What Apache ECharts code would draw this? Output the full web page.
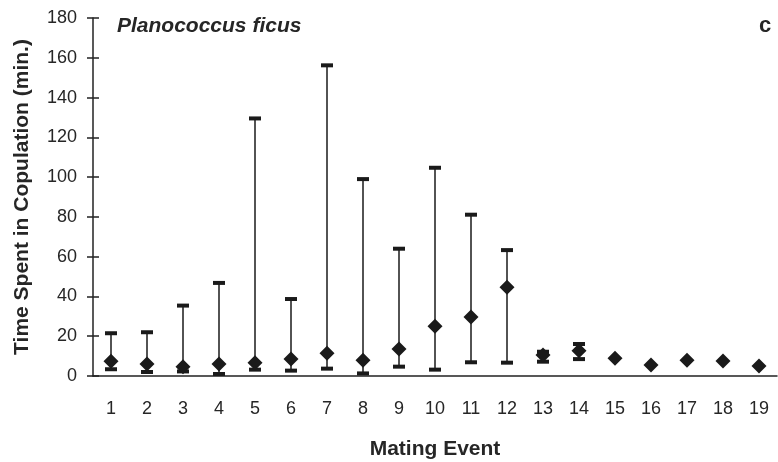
<!DOCTYPE html>
<html>
<head>
<meta charset="utf-8">
<script src="https://cdn.jsdelivr.net/npm/echarts@6/dist/echarts.min.js"></script>
<style>
html,body{margin:0;padding:0;background:#fff;}
#chart{width:778px;height:462px;}
</style>
</head>
<body>
<div id="chart"></div>
<script>
var categories = ['1','2','3','4','5','6','7','8','9','10','11','12','13','14','15','16','17','18','19'];
var meanValues = [7.4, 6, 4.7, 6, 6.7, 8.5, 11.4, 7.9, 13.6, 25, 29.7, 44.6, 10.6, 12.7, 8.9, 5.5, 7.9, 7.5, 5];
var upperValues = [21.5, 22, 35.4, 46.8, 129.5, 38.7, 156.2, 99, 64, 104.7, 81.1, 63.3, 12.2, 16.1, null, null, null, null, null];
var lowerValues = [3.4, 2, 2.3, 1, 3.2, 2.7, 3.7, 1.3, 4.7, 3.2, 6.9, 6.7, 7.2, 8.5, null, null, null, null, null];
var yTicks = [0, 20, 40, 60, 80, 100, 120, 140, 160, 180];

var errData = [];
for (var i = 0; i < categories.length; i++) {
  if (upperValues[i] != null) errData.push([i, lowerValues[i], upperValues[i]]);
}

var textColor = '#262626';
var lineColor = '#222';
var font = 'Liberation Sans, Arial, sans-serif';

var chart = echarts.init(document.getElementById('chart'), null, {renderer: 'canvas'});
chart.setOption({
  animation: false,
  backgroundColor: '#fff',
  title: [
    {text: 'Planococcus ficus', left: 112, top: 11,
     textStyle: {fontFamily: font, fontSize: 21, fontWeight: 'bold', fontStyle: 'italic', color: textColor}},
    {text: 'c', left: 754, top: 10,
     textStyle: {fontFamily: font, fontSize: 22, fontWeight: 'bold', color: textColor}}
  ],
  grid: {left: 93, right: 1, top: 18, bottom: 86, containLabel: false, outerBoundsMode: 'none'},
  xAxis: [
    {type: 'category', data: categories, position: 'bottom',
     name: 'Mating Event', nameLocation: 'middle', nameGap: 63,
     nameTextStyle: {fontFamily: font, fontSize: 21, fontWeight: 'bold', color: textColor},
     axisLine: {lineStyle: {color: lineColor, width: 1.5}},
     axisTick: {inside: false, length: 6, lineStyle: {color: lineColor, width: 1.5}},
     axisLabel: {fontFamily: font, fontSize: 18, color: textColor, margin: 24},
     splitLine: {show: false}},
    {type: 'category', data: categories, position: 'bottom',
     axisLine: {show: false},
     axisTick: {inside: true, length: 6, lineStyle: {color: lineColor, width: 1.5}},
     axisLabel: {show: false},
     splitLine: {show: false}}
  ],
  yAxis: [
    {type: 'value', min: 0, max: 180, interval: 20, position: 'left',
     name: 'Time Spent in Copulation (min.)', nameLocation: 'middle', nameGap: 60,
     nameTextStyle: {fontFamily: font, fontSize: 21, fontWeight: 'bold', color: textColor},
     axisLine: {show: true, lineStyle: {color: lineColor, width: 1.5}},
     axisTick: {show: true, inside: false, length: 6, lineStyle: {color: lineColor, width: 1.5}},
     axisLabel: {fontFamily: font, fontSize: 18, color: textColor, margin: 16,
       formatter: function (v) { return yTicks.indexOf(v) >= 0 ? String(v) : ''; }},
     splitLine: {show: false}},
    {type: 'value', min: 0, max: 180, interval: 20, position: 'left',
     axisLine: {show: false},
     axisTick: {show: true, inside: true, length: 6, lineStyle: {color: lineColor, width: 1.5}},
     axisLabel: {show: false},
     splitLine: {show: false}}
  ],
  series: [
    {type: 'custom', xAxisIndex: 0, yAxisIndex: 0, data: errData, z: 2,
     renderItem: function (params, api) {
       var x = api.value(0);
       var lo = api.coord([x, api.value(1)]);
       var hi = api.coord([x, api.value(2)]);
       var hw = 6, ch = 4;
       return {type: 'group', children: [
         {type: 'line', shape: {x1: lo[0], y1: lo[1], x2: hi[0], y2: hi[1]},
          style: {stroke: '#1a1a1a', lineWidth: 1.5}},
         {type: 'rect', shape: {x: hi[0] - hw, y: hi[1] - ch / 2, width: hw * 2, height: ch},
          style: {fill: '#1a1a1a'}},
         {type: 'rect', shape: {x: lo[0] - hw, y: lo[1] - ch / 2, width: hw * 2, height: ch},
          style: {fill: '#1a1a1a'}}
       ]};
     }},
    {type: 'scatter', xAxisIndex: 0, yAxisIndex: 0, data: meanValues, z: 3,
     symbol: 'diamond', symbolSize: [15, 15],
     itemStyle: {color: '#1a1a1a', opacity: 1}}
  ]
});
</script>
</body>
</html>
